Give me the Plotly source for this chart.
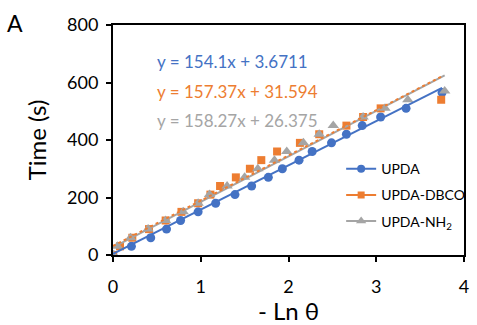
import plotly.graph_objects as go

# ---- data ----
upda_x = [0, 0.21, 0.43, 0.61, 0.77, 0.97, 1.17, 1.39, 1.58, 1.77, 1.93, 2.12, 2.27, 2.49, 2.66, 2.84, 3.05, 3.34, 3.75]
upda_y = [0, 30, 60, 90, 120, 150, 180, 210, 240, 270, 300, 330, 360, 390, 420, 450, 480, 510, 565]

dbco_x = [0, 0.08, 0.22, 0.41, 0.6, 0.78, 0.97, 1.11, 1.22, 1.40, 1.56, 1.69, 1.87, 2.13, 2.35, 2.66, 2.85, 3.05, 3.74]
dbco_y = [0, 30, 60, 90, 120, 150, 180, 210, 240, 270, 300, 330, 360, 390, 420, 450, 480, 510, 540]

nh2_x = [0, 0.05, 0.2, 0.4, 0.6, 0.8, 0.97, 1.1, 1.3, 1.5, 1.65, 1.84, 1.98, 2.17, 2.35, 2.51, 2.85, 3.1, 3.36, 3.78]
nh2_y = [0, 30, 60, 90, 120, 150, 180, 210, 240, 270, 300, 330, 360, 390, 420, 450, 480, 510, 540, 570]

series_names = ["UPDA", "UPDA-DBCO", "UPDA-NH<sub>2</sub>"]
slopes = [154.1, 157.37, 158.27]
intercepts = [3.6711, 31.594, 26.375]
equations = ["y = 154.1x + 3.6711", "y = 157.37x + 31.594", "y = 158.27x + 26.375"]

x_ticks = [0, 1, 2, 3, 4]
y_ticks = [0, 200, 400, 600, 800]

# ---- style ----
colors = ["#4472C4", "#ED7D31", "#A5A5A5"]
symbols = ["circle", "square", "triangle-up"]
msizes = [9, 8, 10]
dashes = ["solid", "dot", "solid"]
FONT = "Lato, 'Open Sans', sans-serif"

fig = go.Figure()
xs = [upda_x, dbco_x, nh2_x]
ys = [upda_y, dbco_y, nh2_y]

for i in range(3):
    fig.add_trace(go.Scatter(x=xs[i], y=ys[i], mode="markers",
                             marker=dict(color=colors[i], symbol=symbols[i], size=msizes[i]),
                             showlegend=False, hoverinfo="skip"))
for i in [2, 1, 0]:
    x0, x1 = min(xs[i]), max(xs[i])
    fig.add_trace(go.Scatter(x=[x0, x1], y=[slopes[i] * x0 + intercepts[i], slopes[i] * x1 + intercepts[i]],
                             mode="lines", line=dict(color=colors[i], width=2, dash=dashes[i]),
                             showlegend=False, hoverinfo="skip"))
for i in range(3):
    fig.add_trace(go.Scatter(x=[None], y=[None], mode="lines+markers", name=series_names[i],
                             legendgroup=str(i),
                             line=dict(color=colors[i], width=2),
                             marker=dict(color=colors[i], symbol=symbols[i], size=msizes[i] - 1)))

for i in range(3):
    fig.add_annotation(x=0.12, y=0.84 - i * 0.127, xref="paper", yref="paper",
                       text=equations[i], showarrow=False, xanchor="left", yanchor="middle",
                       font=dict(family=FONT, size=17, color=colors[i]))

fig.add_annotation(x=-0.307, y=1.01, xref="paper", yref="paper", text="A", showarrow=False,
                   xanchor="left", yanchor="middle", font=dict(family=FONT, size=23, color="black"))

axis_common = dict(showgrid=False, zeroline=False, showline=True, linecolor="black", linewidth=2,
                   mirror=True, ticks="outside", ticklen=5, tickwidth=1.5, tickcolor="black",
                   tickfont=dict(family=FONT, size=18, color="black"))

fig.update_xaxes(range=[0, 4], tickvals=x_ticks, ticklabelstandoff=9,
                 title=dict(text="- Ln θ", font=dict(family=FONT, size=24, color="black"), standoff=6),
                 automargin=False, **axis_common)
fig.update_yaxes(range=[0, 800], tickvals=y_ticks, ticklabelstandoff=4,
                 title=dict(text="Time (s)", font=dict(family=FONT, size=24, color="black"), standoff=14),
                 automargin=False, **axis_common)

fig.update_layout(width=477, height=325, margin=dict(l=113, r=7, t=25, b=70),
                  plot_bgcolor="white", paper_bgcolor="white",
                  font=dict(family=FONT, color="black"),
                  legend=dict(x=0.65, y=0.443, xanchor="left", yanchor="top",
                              font=dict(family=FONT, size=14, color="black"),
                              bgcolor="rgba(0,0,0,0)", tracegroupgap=5))

fig.write_html("out.html", config={"displayModeBar": False},
               post_script="document.body.style.margin='0px';")
